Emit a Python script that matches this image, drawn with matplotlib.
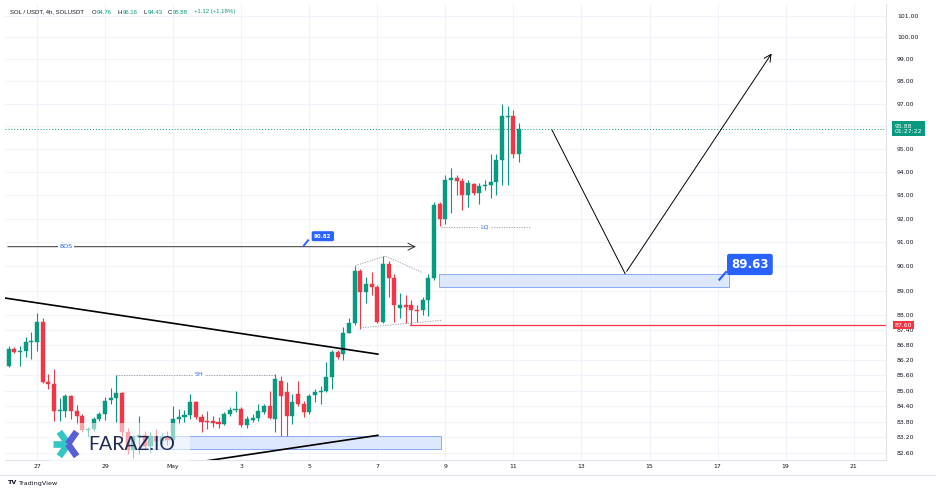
import numpy as np
import matplotlib
matplotlib.use("Agg")
import matplotlib.pyplot as plt
from matplotlib.patches import Rectangle
from matplotlib.ticker import NullLocator
import matplotlib.transforms as mtransforms

# ---------------- data (4h candles, index 0 = 27 Apr 00:00) ----------------
candle_idx = list(range(-5, 86))
opens = [85.97, 86.64, 86.54, 86.56, 86.91, 86.93, 87.73, 85.35, 85.27, 84.21,
         84.21, 84.80, 84.21, 84.02, 83.47, 83.51, 83.90, 84.10, 84.65, 84.72,
         84.92, 83.40, 82.70, 83.20, 83.30, 82.85, 83.25, 83.05, 83.20, 83.10,
         83.90, 83.98, 84.05, 84.57, 83.98, 83.84, 83.84, 83.78, 83.70, 84.10,
         84.25, 84.29, 83.66, 83.86, 83.94, 84.17, 84.41, 83.90, 85.39, 84.96,
         84.02, 84.88, 84.49, 84.17, 84.84, 84.96, 85.00, 85.54, 86.52, 86.45,
         87.30, 87.69, 89.83, 88.93, 89.26, 89.14, 87.73, 90.11, 89.54, 88.29,
         88.41, 88.41, 88.20, 88.20, 88.61, 89.54, 92.61, 92.00, 93.65, 93.74,
         93.61, 93.00, 93.48, 93.09, 93.39, 93.44, 93.57, 94.52, 96.39, 96.44,
         94.76]
highs = [86.75, 86.71, 86.75, 87.14, 87.34, 88.08, 87.88, 85.66, 85.85, 84.72,
         84.88, 84.84, 84.45, 84.10, 83.59, 83.98, 84.17, 84.76, 85.12, 85.62,
         84.96, 83.55, 83.30, 84.00, 83.45, 83.40, 83.50, 83.35, 83.45, 84.41,
         84.29, 84.25, 84.88, 84.61, 84.10, 84.21, 84.02, 83.98, 84.17, 84.37,
         85.00, 84.37, 84.02, 84.10, 84.49, 84.49, 85.00, 85.66, 85.58, 85.35,
         84.88, 85.39, 84.61, 84.88, 85.08, 85.20, 86.13, 86.60, 86.60, 87.53,
         87.88, 90.03, 89.91, 89.55, 89.75, 89.22, 90.43, 90.23, 89.70, 88.89,
         88.81, 88.61, 88.41, 88.73, 89.70, 92.70, 92.70, 93.87, 94.18, 93.87,
         93.74, 93.65, 93.52, 93.52, 93.65, 94.78, 94.78, 97.00, 96.91, 96.70,
         96.16]
lows = [85.93, 86.48, 85.97, 86.32, 86.25, 86.56, 85.30, 85.08, 83.82, 83.82,
        83.98, 83.90, 83.70, 83.39, 83.20, 83.43, 83.82, 83.86, 84.49, 83.78,
        83.15, 82.55, 82.40, 82.55, 82.70, 82.65, 82.90, 82.95, 82.90, 83.01,
        83.70, 83.78, 83.90, 83.90, 83.39, 83.51, 83.59, 83.55, 83.66, 84.02,
        84.17, 83.59, 83.55, 83.78, 83.82, 84.10, 83.90, 83.39, 83.23, 83.23,
        83.70, 84.41, 83.98, 84.10, 84.57, 84.49, 84.96, 85.08, 86.25, 86.21,
        87.28, 87.61, 87.45, 88.49, 88.81, 87.69, 87.69, 88.73, 87.73, 87.88,
        87.69, 87.61, 87.73, 88.00, 87.96, 89.42, 91.70, 91.78, 92.22, 93.00,
        92.35, 92.48, 93.00, 92.61, 93.22, 92.87, 93.00, 93.44, 93.44, 94.60,
        94.43]
closes = [86.64, 86.52, 86.58, 86.91, 86.95, 87.73, 85.35, 85.27, 84.21, 84.25,
          84.80, 84.21, 84.02, 83.47, 83.51, 83.90, 84.10, 84.61, 84.72, 84.92,
          83.40, 82.70, 83.20, 83.30, 82.85, 83.25, 83.05, 83.20, 83.10, 83.90,
          83.98, 84.05, 84.57, 83.98, 83.78, 83.78, 83.76, 83.70, 84.10, 84.25,
          84.29, 83.66, 83.90, 83.94, 84.21, 84.41, 83.94, 85.47, 84.80, 84.02,
          84.57, 84.49, 84.17, 84.80, 84.96, 85.00, 85.54, 86.52, 86.32, 87.30,
          87.69, 89.83, 88.93, 89.26, 89.14, 87.73, 90.11, 89.54, 88.41, 88.41,
          88.33, 88.20, 88.16, 88.61, 89.54, 92.57, 92.00, 93.65, 93.74, 93.61,
          93.00, 93.52, 93.09, 93.39, 93.44, 93.57, 94.52, 96.44, 96.44, 94.76,
          95.88]

price_ticks = [82.6, 83.2, 83.8, 84.4, 85.0, 85.6, 86.2, 86.8, 87.4, 88, 89, 90,
               91, 92, 93, 94, 95, 96, 97, 98, 99, 100, 101]
hidden_ticks = [96]          # covered by the last-price label on the axis
date_tick_idx = [0, 12, 24, 36, 48, 60, 72, 84, 96, 108, 120, 132, 144]
date_tick_labels = ["27", "29", "May", "3", "5", "7", "9", "11", "13", "15", "17", "19", "21"]

last_price = 95.88
countdown = "01:27:22"
bos_level = 90.82
sh_level = 85.62
lq_level = 91.65
red_level = 87.60
ob_zone = (89.14, 89.70)
ob_label = "89.63"
low_zone = (82.76, 83.23)

# ---------------- style ----------------
UP = "#089981"
DOWN = "#f23645"
BLUE = "#2962ff"
TXT = "#131722"
GRID = "#f0f3fa"

W, H = 936, 492
fig = plt.figure(figsize=(W / 100, H / 100), dpi=100)
fig.patch.set_facecolor("white")
L, R, T, B = 5, 886, 4, 460
ax = fig.add_axes([L / W, 1 - B / H, (R - L) / W, (B - T) / H])
ax.set_yscale("log")
ax.set_xlim(-5.65, 149.7)
ax.set_ylim(82.33, 101.55)

ax.set_yticks(price_ticks)
ax.set_yticklabels(["" if p in hidden_ticks else f"{p:.2f}" for p in price_ticks])
ax.yaxis.set_minor_locator(NullLocator())
ax.set_xticks(date_tick_idx)
ax.set_xticklabels(date_tick_labels)
ax.yaxis.tick_right()
ax.tick_params(axis="y", length=0, pad=8, labelsize=4.4, labelcolor=TXT)
ax.tick_params(axis="x", length=0, pad=3, labelsize=4.4, labelcolor=TXT)
ax.grid(True, color=GRID, lw=0.8)
ax.set_axisbelow(True)
for s in ["top", "left"]:
    ax.spines[s].set_visible(False)
for s in ["right", "bottom"]:
    ax.spines[s].set_color("#e0e3eb")
    ax.spines[s].set_linewidth(0.8)

# candles
x = np.array(candle_idx, dtype=float)
o = np.array(opens); h = np.array(highs); l = np.array(lows); c = np.array(closes)
col = np.where(c >= o, UP, DOWN)
ax.vlines(x, l, h, colors=col, lw=0.8, zorder=3)
bottoms = np.minimum(o, c)
heights = np.maximum(np.abs(c - o), 0.03)
ax.bar(x, heights, bottom=bottoms, width=0.72, color=col, edgecolor=col, lw=0.3, zorder=4)

# ---------------- drawings ----------------
ax.plot([-5.65, 60.1], [88.70, 86.44], color="black", lw=1.2, zorder=5)
ax.plot([29.6, 60.1], [82.29, 83.27], color="black", lw=1.2, zorder=5)

# BOS
ax.annotate("", xy=(67.3, bos_level), xytext=(-5.65, bos_level),
            arrowprops=dict(arrowstyle="->,head_length=0.5,head_width=0.25", color="#333333", lw=0.7),
            zorder=5)
ax.text(5.1, bos_level, "BOS", color=BLUE, fontsize=4.6, ha="center", va="center",
        bbox=dict(boxstyle="square,pad=0.25", fc="white", ec="none"), zorder=6)
ax.plot([46.9, 47.9], [bos_level, 91.12], color=BLUE, lw=1.4, zorder=6, solid_capstyle="butt")
ax.text(50.4, 91.26, f"{bos_level:.2f}", color="white", fontsize=4.0, fontweight="bold",
        ha="center", va="center",
        bbox=dict(boxstyle="round,pad=0.45,rounding_size=0.3", fc=BLUE, ec="none"), zorder=7)

# SH dotted
ax.plot([14, 42.2], [sh_level, sh_level], color="#9598a1", lw=0.6, ls=(0, (1.5, 1.5)), zorder=5)
ax.text(28.6, sh_level, "SH", color=BLUE, fontsize=4.6, ha="center", va="center",
        bbox=dict(boxstyle="square,pad=0.25", fc="white", ec="none"), zorder=6)

# LQ dotted
ax.plot([71.3, 87.0], [lq_level, lq_level], color="#9598a1", lw=0.6, ls=(0, (1.5, 1.5)), zorder=5)
ax.text(79.0, lq_level, "LQ", color=BLUE, fontsize=4.6, ha="center", va="center",
        bbox=dict(boxstyle="square,pad=0.25", fc="white", ec="none"), zorder=6)

# triangle (dotted)
ax.plot([56.1, 61.4, 67.9], [90.03, 90.43, 89.75], color="#9598a1", lw=0.6, ls=(0, (1.5, 1.5)), zorder=5)
ax.plot([57.0, 71.3], [87.49, 87.80], color="#9598a1", lw=0.6, ls=(0, (1.5, 1.5)), zorder=5)

# red level
ax.plot([65.8, 149.7], [red_level, red_level], color=DOWN, lw=0.9, zorder=5)

# order block zone
ax.add_patch(Rectangle((70.8, ob_zone[0]), 122.0 - 70.8, ob_zone[1] - ob_zone[0],
                       fc="#dbe6fd", ec="#7fa3f5", lw=0.7, alpha=0.9, zorder=2))
ax.plot([120.2, 121.6], [89.42, 89.80], color=BLUE, lw=1.6, zorder=7, solid_capstyle="butt")
ax.text(125.7, 90.08, ob_label, color="white", fontsize=8.5, fontweight="bold",
        ha="center", va="center",
        bbox=dict(boxstyle="round,pad=0.35,rounding_size=0.2", fc=BLUE, ec="none"), zorder=7)

# bottom zone
ax.add_patch(Rectangle((17.0, low_zone[0]), 71.3 - 17.0, low_zone[1] - low_zone[0],
                       fc="#dbe6fd", ec="#7fa3f5", lw=0.7, alpha=0.9, zorder=2))

# projected path
ax.plot([90.8, 103.7], [95.83, 89.70], color="black", lw=0.7, zorder=5)
ax.annotate("", xy=(129.8, 99.37), xytext=(103.7, 89.70),
            arrowprops=dict(arrowstyle="->,head_length=0.5,head_width=0.25", color="black", lw=0.7),
            zorder=5)

# last price line and labels
ax.axhline(last_price, color=UP, lw=0.7, ls=(0, (1, 2)), zorder=3)
btr = mtransforms.blended_transform_factory(ax.transAxes, ax.transData)
ax.text(1.010, last_price, f"{last_price:.2f}\n{countdown}", transform=btr, color="white",
        fontsize=4.4, ha="left", va="center", linespacing=1.0, clip_on=False,
        bbox=dict(boxstyle="square,pad=0.4", fc=UP, ec="none"), zorder=10)
ax.text(1.010, red_level, f"{red_level:.2f}", transform=btr, color="white",
        fontsize=4.4, ha="left", va="center", clip_on=False,
        bbox=dict(boxstyle="square,pad=0.3", fc=DOWN, ec="none"), zorder=10)

# ---------------- overlay (pixel coords) ----------------
ov = fig.add_axes([0, 0, 1, 1], zorder=5)
ov.set_xlim(0, W); ov.set_ylim(H, 0); ov.axis("off")
ov.patch.set_alpha(0)

# watermark fade box
ov.add_patch(Rectangle((50, 423), 140, 39, fc="white", ec="none", alpha=0.55))
# star logo
cx, cy = 68, 444
arms = [(180, "#33c6c4"), (125, "#33c6c4"), (235, "#33c6c4"),
        (55, "#5a5fd8"), (305, "#5a5fd8")]
for ang, colr in arms:
    a = np.deg2rad(ang)
    ov.plot([cx, cx + 15 * np.cos(a)], [cy, cy - 15 * np.sin(a)], color=colr, lw=4.8,
            solid_capstyle="butt")
ov.text(88, 445, "FARAZ.IO", fontsize=14, color="#1f2a56", family="Lato",
        fontweight="normal", va="center", ha="left")

# header
hy = 12
HF = dict(fontsize=4.3, family="Liberation Sans", va="center")
ov.text(10, hy, "SOL / USDT, 4h, SOLUSDT", color=TXT, **HF)
parts = [(92, "O", TXT), (96.5, "94.76", UP), (118, "H", TXT), (122.5, "96.16", UP),
         (144, "L", TXT), (148, "94.43", UP), (168, "C", TXT), (172.5, "95.88", UP),
         (194, "+1.12 (+1.18%)", UP)]
for px_, s, colr in parts:
    ov.text(px_, hy, s, color=colr, **HF)

# bottom bar
ov.plot([0, W], [475, 475], color="#e0e3eb", lw=0.8)
ov.text(8, 483, "TV", fontsize=4.6, fontweight="bold", color=TXT, va="center")
ov.text(18, 483, "TradingView", fontsize=4.6, color=TXT, va="center")

fig.savefig("out.png", dpi=100, facecolor="white")
